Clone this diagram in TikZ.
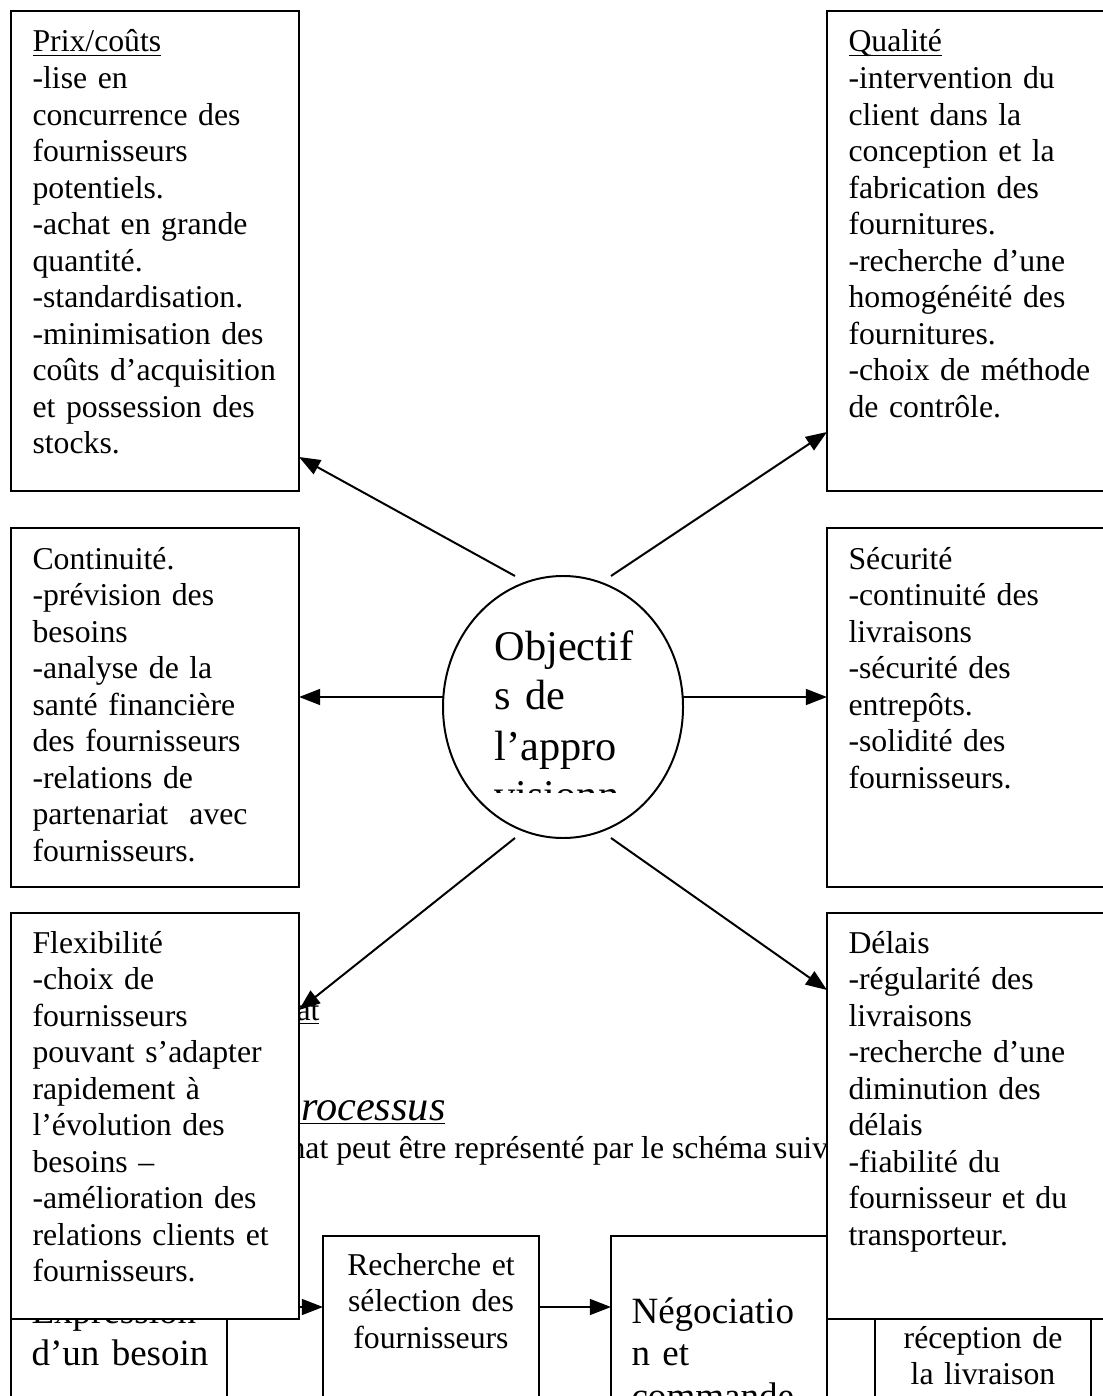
\documentclass[tikz,border=0pt]{standalone}
\usepackage{fontspec}
\setmainfont{Liberation Serif}
\usetikzlibrary{arrows.meta,shapes.geometric,calc}
\newcommand{\px}{0.378pt}

\begin{document}
\begin{tikzpicture}[x=0.378pt, y=-0.378pt,
    cadre/.style={draw, line width=0.75pt, fill=white, rectangle, inner sep=0pt, outer sep=0pt, anchor=north west},
    texte/.style={anchor=base west, inner sep=0pt, align=left, text width=105pt, font=\fontsize{12}{13.8}\selectfont},
    grand/.style={anchor=base west, inner sep=0pt, align=left, text width=80pt, font=\fontsize{14}{16.1}\selectfont},
    fleche/.style={line width=0.75pt, -{Triangle[length=8pt, width=6pt]}}]
    \useasboundingbox (0,0) rectangle (1102,1396);

    % texte du document, sous les cadres
    \node[anchor=base east, inner sep=0pt, font=\fontsize{12}{13.8}\selectfont] (titre) at (320,1020) {\underline{\smash{achat}}};
    \node[anchor=base east, inner sep=0pt, font=\fontsize{16}{18.4}\selectfont\itshape] (proc) at (446,1120) {\underline{\smash{processus}}};
    \node[anchor=base west, inner sep=0pt, font=\fontsize{12}{13.8}\selectfont] (phrase) at (289,1158) {hat peut être représenté par le schéma suivant :};

    % processus d'achat
    \node[cadre, minimum width=216*\px, minimum height=200*\px] (expr) at (11,1236) {};
    \node[cadre, minimum width=216*\px, minimum height=200*\px] (rech) at (323,1236) {};
    \node[cadre, minimum width=216*\px, minimum height=200*\px] (nego) at (611,1236) {};
    \node[cadre, minimum width=216*\px, minimum height=200*\px] (recep) at (875,1236) {};
    \node[grand] (exprtxt) at (31,1323) {Expression\\d’un besoin};
    \node[texte, anchor=base, align=center, text width=75pt] (rechtxt) at (431,1275) {Recherche et\\sélection des\\fournisseurs};
    \node[grand] (negotxt) at (631,1323) {Négociatio\\n et\\commande};
    \node[texte, anchor=base, align=center, text width=75pt] (receptxt) at (983,1348) {réception de\\la livraison};
    \draw[fleche] ($(expr.north east)+(0,71)$) -- ($(rech.north west)+(0,71)$);
    \draw[fleche] ($(rech.north east)+(0,71)$) -- ($(nego.north west)+(0,71)$);

    % objectifs
    \node[cadre, minimum width=288*\px, minimum height=480*\px] (prix) at (11,11) {};
    \node[cadre, minimum width=290*\px, minimum height=480*\px] (qual) at (827,11) {};
    \node[cadre, minimum width=288*\px, minimum height=359*\px] (conti) at (11,528) {};
    \node[cadre, minimum width=290*\px, minimum height=359*\px] (secu) at (827,528) {};
    \node[cadre, minimum width=288*\px, minimum height=406*\px] (flex) at (11,913) {};
    \node[cadre, minimum width=290*\px, minimum height=406*\px] (delai) at (827,913) {};

    \node[texte] (prixtxt) at (32,52) {\underline{\smash{Prix/coûts}}\\-lise en\\concurrence des\\fournisseurs\\potentiels.\\-achat en grande\\quantité.\\-standardisation.\\-minimisation des\\coûts d’acquisition\\et possession des\\stocks.};
    \node[texte] (qualtxt) at (848,52) {\underline{\smash{Qualité}}\\-intervention du\\client dans la\\conception et la\\fabrication des\\fournitures.\\-recherche d’une\\homogénéité des\\fournitures.\\-choix de méthode\\de contrôle.};
    \node[texte] (contitxt) at (32,569) {Continuité.\\-prévision des\\besoins\\-analyse de la\\santé financière\\des fournisseurs\\-relations de\\partenariat~ avec\\fournisseurs.};
    \node[texte] (secutxt) at (848,569) {Sécurité\\-continuité des\\livraisons\\-sécurité des\\entrepôts.\\-solidité des\\fournisseurs.};
    \node[texte] (flextxt) at (32,953) {Flexibilité\\-choix de\\fournisseurs\\pouvant s’adapter\\rapidement à\\l’évolution des\\besoins –\\-amélioration des\\relations clients et\\fournisseurs.};
    \node[texte] (delaitxt) at (848,953) {Délais\\-régularité des\\livraisons\\-recherche d’une\\diminution des\\délais\\-fiabilité du\\fournisseur et du\\transporteur.};

    % centre
    \node[draw, ellipse, line width=0.75pt, minimum width=240*\px, minimum height=262*\px, inner sep=0pt] (obj) at (563,707) {};
    \begin{scope}
        \clip (443,600) rectangle (683,792);
        \node[anchor=base west, inner sep=0pt, align=left, text width=60pt, font=\fontsize{16}{18.9}\selectfont] (objtxt) at (494,660) {Objectif\\s de\\l’appro\\visionn};
    \end{scope}

    \draw[fleche] ($(obj.center)+(-48,-131)$) -- ($(prix.north east)+(0,446)$);
    \draw[fleche] ($(obj.center)+(48,-131)$) -- ($(qual.north west)+(0,421)$);
    \draw[fleche] ($(obj.center)+(-120,-10)$) -- ($(conti.north east)+(0,169)$);
    \draw[fleche] ($(obj.center)+(120,-10)$) -- ($(secu.north west)+(0,169)$);
    \draw[fleche] ($(obj.center)+(-48,131)$) -- ($(flex.north east)+(0,97)$);
    \draw[fleche] ($(obj.center)+(48,131)$) -- ($(delai.north west)+(0,77)$);
\end{tikzpicture}
\end{document}
